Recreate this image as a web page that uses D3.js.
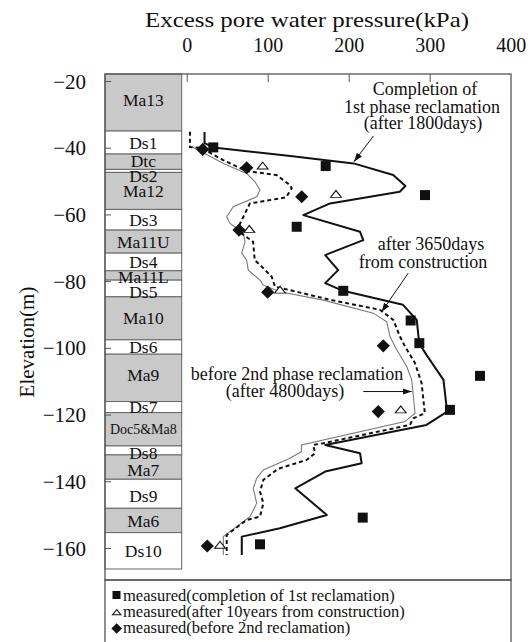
<!DOCTYPE html>
<html><head><meta charset="utf-8">
<script src="https://cdn.jsdelivr.net/npm/d3@7"></script>
<style>
body{margin:0;background:#fff}
svg{display:block;font-family:"Liberation Serif","Times New Roman",serif}
</style>
</head><body>
<svg id="chart" width="528" height="642"></svg>
<script>
// Soil profile: layer names and top elevations (m); last layer ends at layerBase
const layerNames = ["Ma13","Ds1","Dtc","Ds2","Ma12","Ds3","Ma11U","Ds4","Ma11L","Ds5","Ma10","Ds6","Ma9","Ds7","Doc5&Ma8","Ds8","Ma7","Ds9","Ma6","Ds10"];
const layerTops = [-17.9,-35.0,-41.9,-46.5,-47.4,-58.5,-64.7,-71.6,-76.9,-79.7,-84.7,-97.6,-101.9,-116.1,-119.4,-129.4,-132.1,-139.4,-148.1,-155.4];
const layerBase = -166.3;

// Axis ticks
const xTickValues = [0,100,200,300,400];
const yTickValues = [-20,-40,-60,-80,-100,-120,-140,-160];

// Computed profiles [pressure kPa, elevation m]
const calc1800 = [[22,-35.3],[22,-38.6],[33,-39.9],[128,-42.5],[206,-44.7],[255,-48.2],[270,-51.5],[263,-53.2],[177,-56.7],[144,-60.2],[214,-65.2],[218,-67.7],[177,-71.6],[171,-72.2],[187,-76.7],[171,-80.6],[193,-82.9],[267,-87.1],[284,-91.6],[287,-98.6],[296,-102.1],[317,-109.6],[321,-118.1],[325,-118.6],[296,-123.1],[171,-129.1],[214,-131.6],[216,-134.6],[171,-137.1],[134,-142.1],[173,-150.1],[115,-154.1],[68,-156.6],[68,-162.1]];
const calc3650 = [[4,-35.2],[4,-39.8],[18.5,-40.1],[45,-43.7],[74,-47],[111,-48.2],[127.5,-51.2],[129.6,-52.2],[122.6,-54.9],[78,-56.7],[68,-61.7],[62,-64.7],[82,-68.2],[84,-73.7],[94.6,-76.1],[105,-78.7],[109,-81.7],[127.5,-82.7],[177,-85.6],[238.6,-88.6],[255,-91.6],[263.3,-96.6],[269.5,-99.6],[281.9,-104.6],[290,-110.6],[294,-119.6],[279.8,-121.1],[275.7,-123.1],[168.6,-128.6],[156.3,-129.1],[158.4,-131.6],[148.1,-133.6],[115.2,-136.1],[111,-136.6],[94.6,-139.6],[90.5,-143.1],[94.6,-146.6],[90.5,-150.6],[74,-151.6],[57.5,-154.6],[49.4,-156.1],[49.4,-162.1]];
const calc4800 = [[6.5,-39.8],[14.3,-40.7],[45.2,-44.7],[74,-47.7],[84.3,-50.2],[90.5,-52.7],[86.4,-54.7],[57.5,-57.7],[49.4,-60.7],[53.5,-62.7],[69.9,-65.7],[72,-68.2],[68,-71.6],[74,-73.7],[76,-76.7],[90.5,-79.7],[94.6,-81.2],[115.2,-83.2],[168.6,-85.7],[230.4,-89.6],[247,-92.2],[251,-96.6],[259.3,-100.6],[271.6,-105.6],[277.8,-109.6],[281.9,-119.6],[269.5,-122.1],[141.7,-129.1],[141.7,-131.1],[127.5,-133.1],[94.6,-136.6],[86.4,-139.1],[82.2,-142.1],[86.4,-146.6],[78.1,-150.6],[61.7,-153.6],[45.2,-156.6],[45.2,-162.1]];

// Measured values [pressure kPa, elevation m]
const measured1st = [[32.8,-39.9],[171.6,-45.5],[294.2,-54.2],[135.8,-63.7],[193.3,-82.9],[276.5,-91.8],[287.2,-98.6],[362.1,-108.4],[325,-118.6],[217.3,-150.9],[90.5,-158.9]];
const measured10y = [[93.8,-45.7],[184.3,-54.2],[77.3,-64.7],[115.2,-82.9],[264.2,-118.8],[41.1,-159.4]];
const measured2nd = [[19.8,-40.5],[74.1,-46],[142,-54.7],[64.6,-64.7],[100,-83.3],[242.7,-99.4],[236.5,-119.1],[25.4,-159.4]];

const legendLabels = ["measured(completion of 1st reclamation)","measured(after 10years from construction)","measured(before 2nd reclamation)"];

const svg = d3.select("#chart");
const frame = {left:105, top:74, right:511, bottom:580};
const colLeft = 105, colRight = 181.7;

const x = d3.scaleLinear().domain([0,400]).range([186.7,510.7]);
const y = d3.scaleLinear().domain([-17.9,-169.6]).range([frame.top, frame.bottom]);

const ink = "#111", frameColor = "#555";

// Soil column
const layers = layerNames.map((n,i)=>({name:n, top:layerTops[i], bottom: i<layerTops.length-1 ? layerTops[i+1] : layerBase}));
const isClay = n => /^(Ma|Dtc|Doc)/.test(n);
const gCol = svg.append("g");
gCol.selectAll("rect").data(layers).join("rect")
  .attr("x", colLeft).attr("width", colRight-colLeft)
  .attr("y", d=>y(d.top)).attr("height", d=>y(d.bottom)-y(d.top))
  .attr("fill", d=>isClay(d.name) ? "#c9c9c9" : "#fff")
  .attr("stroke", "#666").attr("stroke-width", 1);
const labelNudge = {"Ma13":-3,"Ds2":5,"Dtc":-1,"Ds5":3,"Ma9":-3,"Ds8":2,"Ma7":3,"Ds9":2,"Ma11L":1.5};
gCol.selectAll("text").data(layers).join("text")
  .attr("x", (colLeft+colRight)/2)
  .attr("y", d=>(y(d.top)+y(d.bottom))/2 + (labelNudge[d.name]||0))
  .attr("dy","0.35em")
  .attr("text-anchor","middle")
  .attr("font-size", d=>d.name.length>6 ? 14 : 17.5)
  .attr("fill", ink)
  .text(d=>d.name);

// Frame
svg.append("rect").attr("x",frame.left).attr("y",frame.top)
  .attr("width",frame.right-frame.left).attr("height",frame.bottom-frame.top)
  .attr("fill","none").attr("stroke",frameColor).attr("stroke-width",1.3);

// Top axis (pressure)
const gx = svg.append("g").attr("transform",`translate(0,${frame.top})`);
gx.call(d3.axisTop(x).tickValues(d3.range(0,401,20)).tickSize(-5).tickFormat(""));
gx.call(d3.axisTop(x).tickValues(xTickValues).tickSize(-8).tickPadding(22).tickFormat(d3.format("d")));
gx.selectAll(".domain").remove();
gx.selectAll("line").attr("stroke",frameColor);
gx.selectAll("text").attr("font-size",20).attr("font-family","Liberation Serif").attr("fill",ink);
gx.selectAll(".tick").filter(d=>d===400).select("line").remove();

// Left axis (elevation)
const gy = svg.append("g").attr("transform",`translate(${frame.left},0)`);
gy.call(d3.axisLeft(y).tickValues(yTickValues).tickSize(-6).tickPadding(19).tickFormat(d3.format("d")));
gy.selectAll(".domain").remove();
gy.selectAll("line").attr("stroke",frameColor);
gy.selectAll("text").attr("font-size",21).attr("font-family","Liberation Serif").attr("fill",ink).attr("dy","0.34em");

// Axis titles
svg.append("text").attr("x",307).attr("y",27).attr("text-anchor","middle")
  .attr("font-size",21).attr("textLength",324).attr("lengthAdjust","spacingAndGlyphs")
  .attr("fill",ink).text("Excess pore water pressure(kPa)");
svg.append("text").attr("transform","translate(34,342) rotate(-90)").attr("text-anchor","middle")
  .attr("font-size",21).attr("fill",ink).text("Elevation(m)");

// Profiles
const line = d3.line().x(d=>x(d[0])).y(d=>y(d[1]));
svg.append("path").datum(calc4800).attr("d",line).attr("fill","none")
  .attr("stroke","#7a7a7a").attr("stroke-width",1.1);
svg.append("path").datum(calc3650).attr("d",line).attr("fill","none")
  .attr("stroke",ink).attr("stroke-width",2).attr("stroke-dasharray","4,3");
svg.append("path").datum(calc1800).attr("d",line).attr("fill","none")
  .attr("stroke",ink).attr("stroke-width",2).attr("stroke-linejoin","round");

// Measured points
const sq = d3.symbol(d3.symbolSquare, 100);
const tri = d3.symbol(d3.symbolTriangle, 38);
const dia = (cx,cy,r)=>`M${cx},${cy-r}L${cx+r},${cy}L${cx},${cy+r}L${cx-r},${cy}Z`;
svg.append("g").selectAll("path").data(measured1st).join("path")
  .attr("d",sq).attr("transform",d=>`translate(${x(d[0])},${y(d[1])})`).attr("fill",ink);
svg.append("g").selectAll("path").data(measured10y).join("path")
  .attr("d",tri).attr("transform",d=>`translate(${x(d[0])},${y(d[1])}) scale(1.15,0.85)`)
  .attr("fill","#fff").attr("stroke",ink).attr("stroke-width",1.1);
svg.append("g").selectAll("path").data(measured2nd).join("path")
  .attr("d",d=>dia(x(d[0]),y(d[1]),6.6)).attr("fill",ink);

// Annotations
const defs = svg.append("defs");
defs.append("marker").attr("id","arr").attr("viewBox","0 0 10 10").attr("refX",10).attr("refY",5)
  .attr("markerWidth",9).attr("markerHeight",9).attr("markerUnits","userSpaceOnUse").attr("orient","auto")
  .append("path").attr("d","M0,1.5L10,5L0,8.5Z").attr("fill",ink);
const note = (lines)=>lines.forEach(l=>svg.append("text").attr("x",l[0]).attr("y",l[1])
  .attr("text-anchor","middle").attr("font-size",18).attr("fill",ink).text(l[2]));
note([[425,95,"Completion of"],[422,113,"1st phase reclamation"],[423,129,"(after 1800days)"]]);
note([[431,250,"after 3650days"],[423,268,"from construction"]]);
note([[297,380,"before 2nd phase reclamation"],[285,397,"(after 4800days)"]]);
const arrows = [[[230.5,-36.5],[206.5,-44.2]],[[273.5,-77.6],[240.7,-89.2]],[[218,-113.1],[277.8,-113.1]]];
svg.append("g").selectAll("line").data(arrows).join("line")
  .attr("x1",d=>x(d[0][0])).attr("y1",d=>y(d[0][1]))
  .attr("x2",d=>x(d[1][0])).attr("y2",d=>y(d[1][1]))
  .attr("stroke",ink).attr("stroke-width",1).attr("marker-end","url(#arr)");

// Legend
svg.append("rect").attr("x",frame.left).attr("y",frame.bottom).attr("width",frame.right-frame.left)
  .attr("height",80).attr("fill","none").attr("stroke",frameColor).attr("stroke-width",1.3);
const lg = svg.append("g");
const rows = [600.5,616.5,632.5];
lg.append("rect").attr("x",112.5).attr("y",591).attr("width",8).attr("height",8).attr("fill",ink);
lg.append("path").attr("d",d3.symbol(d3.symbolTriangle,22)).attr("transform","translate(116.7,613) scale(1.2,0.85)")
  .attr("fill","#fff").attr("stroke",ink).attr("stroke-width",1);
lg.append("path").attr("d",dia(116.7,628.5,5.3)).attr("fill",ink);
lg.selectAll("text").data(legendLabels).join("text")
  .attr("x",123).attr("y",(d,i)=>rows[i]).attr("font-size",16.5).attr("fill",ink).text(d=>d);
</script>
</body></html>
